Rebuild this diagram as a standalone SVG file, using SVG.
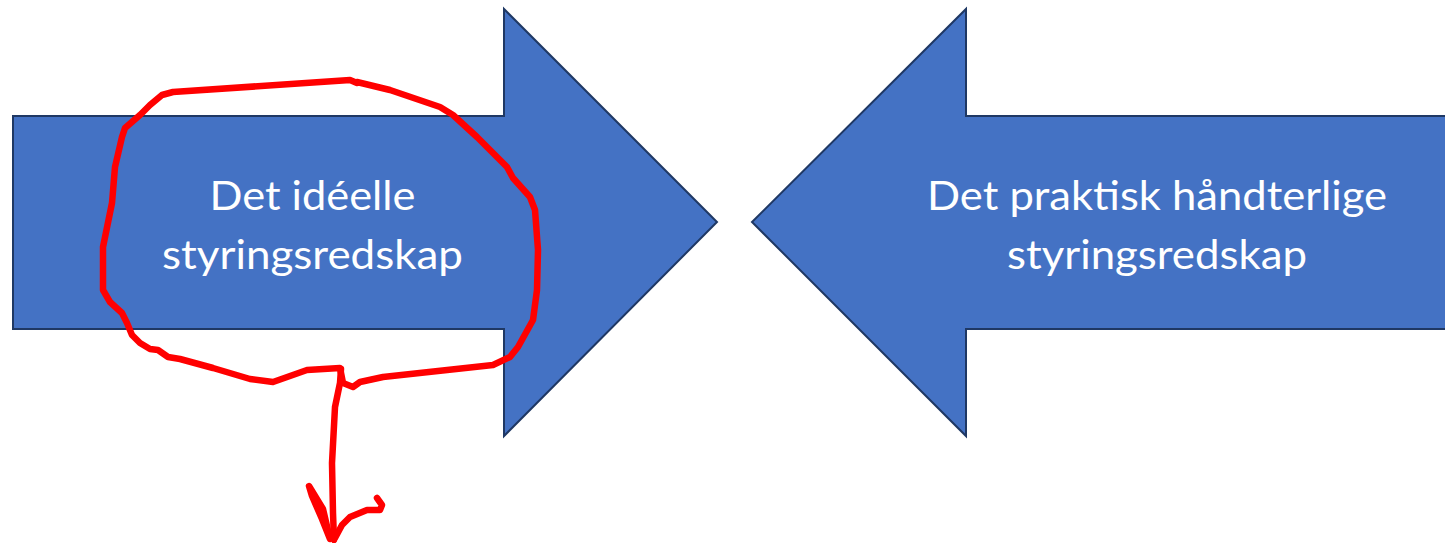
<svg xmlns="http://www.w3.org/2000/svg" width="1445" height="543" viewBox="0 0 1445 543">
<style>
.arrow{fill:#4472C4;stroke:#1F3864;stroke-width:2;stroke-linejoin:miter}
.lbl{font-family:Lato,"Open Sans","Liberation Sans",sans-serif;font-size:40px;fill:#FFFFFF;text-anchor:middle}
.ink{fill:none;stroke:#FF0000;stroke-width:6.5;stroke-linecap:round;stroke-linejoin:round}
</style>
<rect width="1445" height="543" fill="#FFFFFF"/>
<g id="arrow-ideal">
<polygon class="arrow" points="13,116 504,116 504,9 717,222 504,436 504,329 13,329"/>
<text class="lbl" x="312.5" y="210" textLength="206" lengthAdjust="spacingAndGlyphs">Det idéelle</text>
<text class="lbl" x="312.5" y="269" textLength="301" lengthAdjust="spacingAndGlyphs">styringsredskap</text>
</g>
<g id="arrow-praktisk">
<polygon class="arrow" points="1450,116 966,116 966,9 752,222 966,436 966,329 1450,329"/>
<text class="lbl" x="1157" y="210" textLength="460" lengthAdjust="spacingAndGlyphs">Det praktisk håndterlige</text>
<text class="lbl" x="1157" y="269" textLength="300" lengthAdjust="spacingAndGlyphs">styringsredskap</text>
</g>
<g id="connectors">
<path class="ink" d="M357,83 L350,80 L173,92 L162,95 L150,105 L140,115 L125,128 L122,137 L115,167 L112,203 L103,247 L103,290 L110,302 L122,313 L127,323 L132,335 L140,343 L150,349 L158,350 L168,357 L180,359 L213,368 L250,379 L273,382 L307,370 L340,368 L343,383 L353,387 L360,382 L383,377 L493,365 L510,357 L518,347 L533,320 L537,290 L538,250 L535,210 L530,197 L513,178 L507,167 L477,137 L453,115 L440,107 L390,90 L357,82"/>
<path class="ink" d="M341,369 L340,383 L335,407 L332,463 L333,513 L334,540"/>
<path class="ink" d="M309,486 L323,509 L330,539 L322,519 L312,496 Z" fill="#FF0000"/>
<path class="ink" d="M335,538 L342,525 L350,517 L367,510 L380,510 L382,505 L377,498"/>
</g>
</svg>
